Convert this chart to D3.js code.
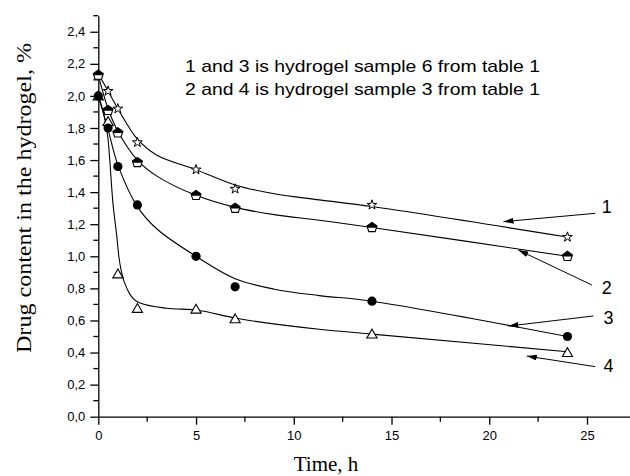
<!DOCTYPE html>
<html>
<head>
<meta charset="utf-8">
<script src="https://cdn.jsdelivr.net/npm/d3@7"></script>
<style>
  body { margin: 0; background: #fff; }
  .axis path, .axis line { stroke: #000; stroke-width: 1.3; }
  .axis text { font-family: "Liberation Sans", Arial, sans-serif; font-size: 13px; fill: #000; }
</style>
</head>
<body>
<div id="chart"></div>
<script>
// measured points
var time = [0, 0.5, 1, 2, 5, 7, 14, 24];
var sample1 = [2.13, 2.03, 1.92, 1.71, 1.54, 1.42, 1.32, 1.12];
var sample2 = [2.13, 1.91, 1.77, 1.585, 1.38, 1.30, 1.18, 1.00];
var sample3 = [2.00, 1.80, 1.56, 1.32, 1.00, 0.81, 0.72, 0.50];
var sample4 = [2.00, 1.84, 0.89, 0.675, 0.67, 0.61, 0.515, 0.40];

// fitted curves
var fit1T = [0, 0.5, 1, 2, 3, 5, 7, 9, 11.3, 14, 24];
var fit1V = [2.14, 2.03, 1.92, 1.73, 1.63, 1.54, 1.445, 1.39, 1.352, 1.31, 1.12];
var fit2T = [0, 0.5, 1, 2, 3, 5, 7, 9, 11.3, 14, 24];
var fit2V = [2.13, 1.92, 1.78, 1.60, 1.50, 1.38, 1.305, 1.26, 1.225, 1.18, 1.00];
var fit3T = [0, 0.5, 1, 2, 3, 5, 7, 9, 11.3, 14, 24];
var fit3V = [2.00, 1.79, 1.57, 1.31, 1.17, 1.00, 0.86, 0.795, 0.755, 0.72, 0.50];
var fit4T = [0, 0.25, 0.5, 0.75, 0.95, 1.05, 1.2, 1.5, 2.1, 3.5, 5, 7, 11.3, 14, 24];
var fit4V = [2.00, 1.90, 1.73, 1.33, 1.12, 1.00, 0.895, 0.79, 0.71, 0.676, 0.665, 0.615, 0.545, 0.515, 0.405];

// curve labels: text position, arrow start, arrow tip (data units)
var labelNames = ["1", "2", "3", "4"];
var labelPos = [[25.76, 1.309], [25.76, 0.807], [25.84, 0.620], [25.84, 0.322]];
var arrowFrom = [[25.42, 1.268], [25.25, 0.821], [25.33, 0.628], [25.42, 0.312]];
var arrowTo = [[20.73, 1.216], [21.49, 1.039], [20.98, 0.565], [21.92, 0.378]];

var notes = ["1 and 3 is hydrogel sample 6 from table 1", "2 and 4 is hydrogel sample 3 from table 1"];

var width = 630, height = 476;
var margin = {left: 98.3, top: 15.7, right: 0, bottom: 59.3};

var svg = d3.select("#chart").append("svg")
    .attr("width", width)
    .attr("height", height);

var x = d3.scaleLinear().domain([0, 27.2]).range([margin.left, width - margin.right]);
var y = d3.scaleLinear().domain([0, 2.5]).range([height - margin.bottom, margin.top]);

// axes
var xAxis = svg.append("g")
    .attr("class", "axis")
    .attr("transform", "translate(0," + y(0) + ")")
    .call(d3.axisBottom(x).tickValues([0, 5, 10, 15, 20, 25]).tickSize(8).tickSizeOuter(0).tickPadding(6));
xAxis.selectAll(".minor")
    .data([2.5, 7.5, 12.5, 17.5, 22.5])
  .enter().append("line")
    .attr("class", "minor")
    .attr("x1", function(d) { return x(d); })
    .attr("x2", function(d) { return x(d); })
    .attr("y1", 0).attr("y2", 5);

var yAxis = svg.append("g")
    .attr("class", "axis")
    .attr("transform", "translate(" + x(0) + ",0)")
    .call(d3.axisLeft(y).tickValues(d3.range(0, 2.41, 0.2))
      .tickFormat(function(d) { return d3.format(".1f")(d).replace(".", ","); })
      .tickSize(8).tickSizeOuter(0).tickPadding(5));
yAxis.selectAll(".minor")
    .data(d3.range(0.1, 2.51, 0.2))
  .enter().append("line")
    .attr("class", "minor")
    .attr("x1", 0).attr("x2", -5)
    .attr("y1", function(d) { return y(d); })
    .attr("y2", function(d) { return y(d); });

// axis titles
svg.append("text")
    .attr("x", 326).attr("y", 471)
    .attr("text-anchor", "middle")
    .style("font-family", "'Liberation Serif', 'Times New Roman', serif")
    .style("font-size", "21px")
    .text("Time, h");

svg.append("text")
    .attr("transform", "translate(31,198) rotate(-90)")
    .attr("text-anchor", "middle")
    .style("font-family", "'Liberation Serif', 'Times New Roman', serif")
    .style("font-size", "21px")
    .attr("textLength", 310)
    .attr("lengthAdjust", "spacingAndGlyphs")
    .text("Drug content in the hydrogel, %");

// fitted lines
var line = d3.line()
    .x(function(d) { return x(d[0]); })
    .y(function(d) { return y(d[1]); })
    .curve(d3.curveCatmullRom.alpha(0.5));
var steepLine = d3.line()
    .x(function(d) { return x(d[0]); })
    .y(function(d) { return y(d[1]); })
    .curve(d3.curveMonotoneX);

[[fit1T, fit1V], [fit2T, fit2V], [fit3T, fit3V], [fit4T, fit4V]].forEach(function(f, i) {
  svg.append("path")
      .datum(d3.zip(f[0], f[1]))
      .attr("d", i == 3 ? steepLine : line)
      .attr("fill", "none")
      .attr("stroke", "#000")
      .attr("stroke-width", 1.1);
});

// markers
svg.selectAll(".tri")
    .data(d3.zip(time, sample4))
  .enter().append("path")
    .attr("class", "tri")
    .attr("transform", function(d) { return "translate(" + x(d[0]) + "," + (y(d[1]) + 1) + ")"; })
    .attr("d", d3.symbol().type(d3.symbolTriangle).size(45))
    .attr("fill", "#fff")
    .attr("stroke", "#000")
    .attr("stroke-width", 1.1);

svg.selectAll(".dot")
    .data(d3.zip(time, sample3))
  .enter().append("circle")
    .attr("class", "dot")
    .attr("cx", function(d) { return x(d[0]); })
    .attr("cy", function(d) { return y(d[1]); })
    .attr("r", 4.6)
    .attr("fill", "#000");

svg.selectAll(".star")
    .data(d3.zip(time, sample1))
  .enter().append("path")
    .attr("class", "star")
    .attr("transform", function(d) { return "translate(" + x(d[0]) + "," + y(d[1]) + ")"; })
    .attr("d", d3.symbol().type(d3.symbolStar).size(30))
    .attr("fill", "#fff")
    .attr("stroke", "#000")
    .attr("stroke-width", 1);

// half filled pentagon for sample 2
var pent = "M0,-5L5,-1.4L3.2,4.2L-3.2,4.2L-5,-1.4Z";
var pentTop = "M0,-5L5,-1.4L4.5,0.3L-4.5,0.3L-5,-1.4Z";
var pg = svg.selectAll(".pent")
    .data(d3.zip(time, sample2))
  .enter().append("g")
    .attr("class", "pent")
    .attr("transform", function(d) { return "translate(" + x(d[0]) + "," + y(d[1]) + ")"; });
pg.append("path").attr("d", pent).attr("fill", "#fff").attr("stroke", "#000").attr("stroke-width", 1.1);
pg.append("path").attr("d", pentTop).attr("fill", "#000");

// arrows with labels
svg.append("defs").append("marker")
    .attr("id", "head")
    .attr("viewBox", "0 0 10 6")
    .attr("refX", 10).attr("refY", 3)
    .attr("markerWidth", 10).attr("markerHeight", 6)
    .attr("markerUnits", "userSpaceOnUse")
    .attr("orient", "auto")
  .append("path")
    .attr("d", "M0,0L10,3L0,6Z")
    .attr("fill", "#000");

labelNames.forEach(function(name, i) {
  svg.append("line")
      .attr("x1", x(arrowFrom[i][0])).attr("y1", y(arrowFrom[i][1]))
      .attr("x2", x(arrowTo[i][0])).attr("y2", y(arrowTo[i][1]))
      .attr("stroke", "#000")
      .attr("stroke-width", 1)
      .attr("marker-end", "url(#head)");
  svg.append("text")
      .attr("x", x(labelPos[i][0]))
      .attr("y", y(labelPos[i][1]))
      .attr("dy", "0.36em")
      .style("font-family", "'Liberation Sans', Arial, sans-serif")
      .style("font-size", "18px")
      .text(name);
});

// note text
svg.selectAll(".note")
    .data(notes)
  .enter().append("text")
    .attr("class", "note")
    .attr("x", 185)
    .attr("y", function(d, i) { return 71.5 + i * 23.6; })
    .style("font-family", "'Liberation Sans', Arial, sans-serif")
    .style("font-size", "17px")
    .attr("textLength", 355)
    .attr("lengthAdjust", "spacingAndGlyphs")
    .text(function(d) { return d; });
</script>
</body>
</html>
